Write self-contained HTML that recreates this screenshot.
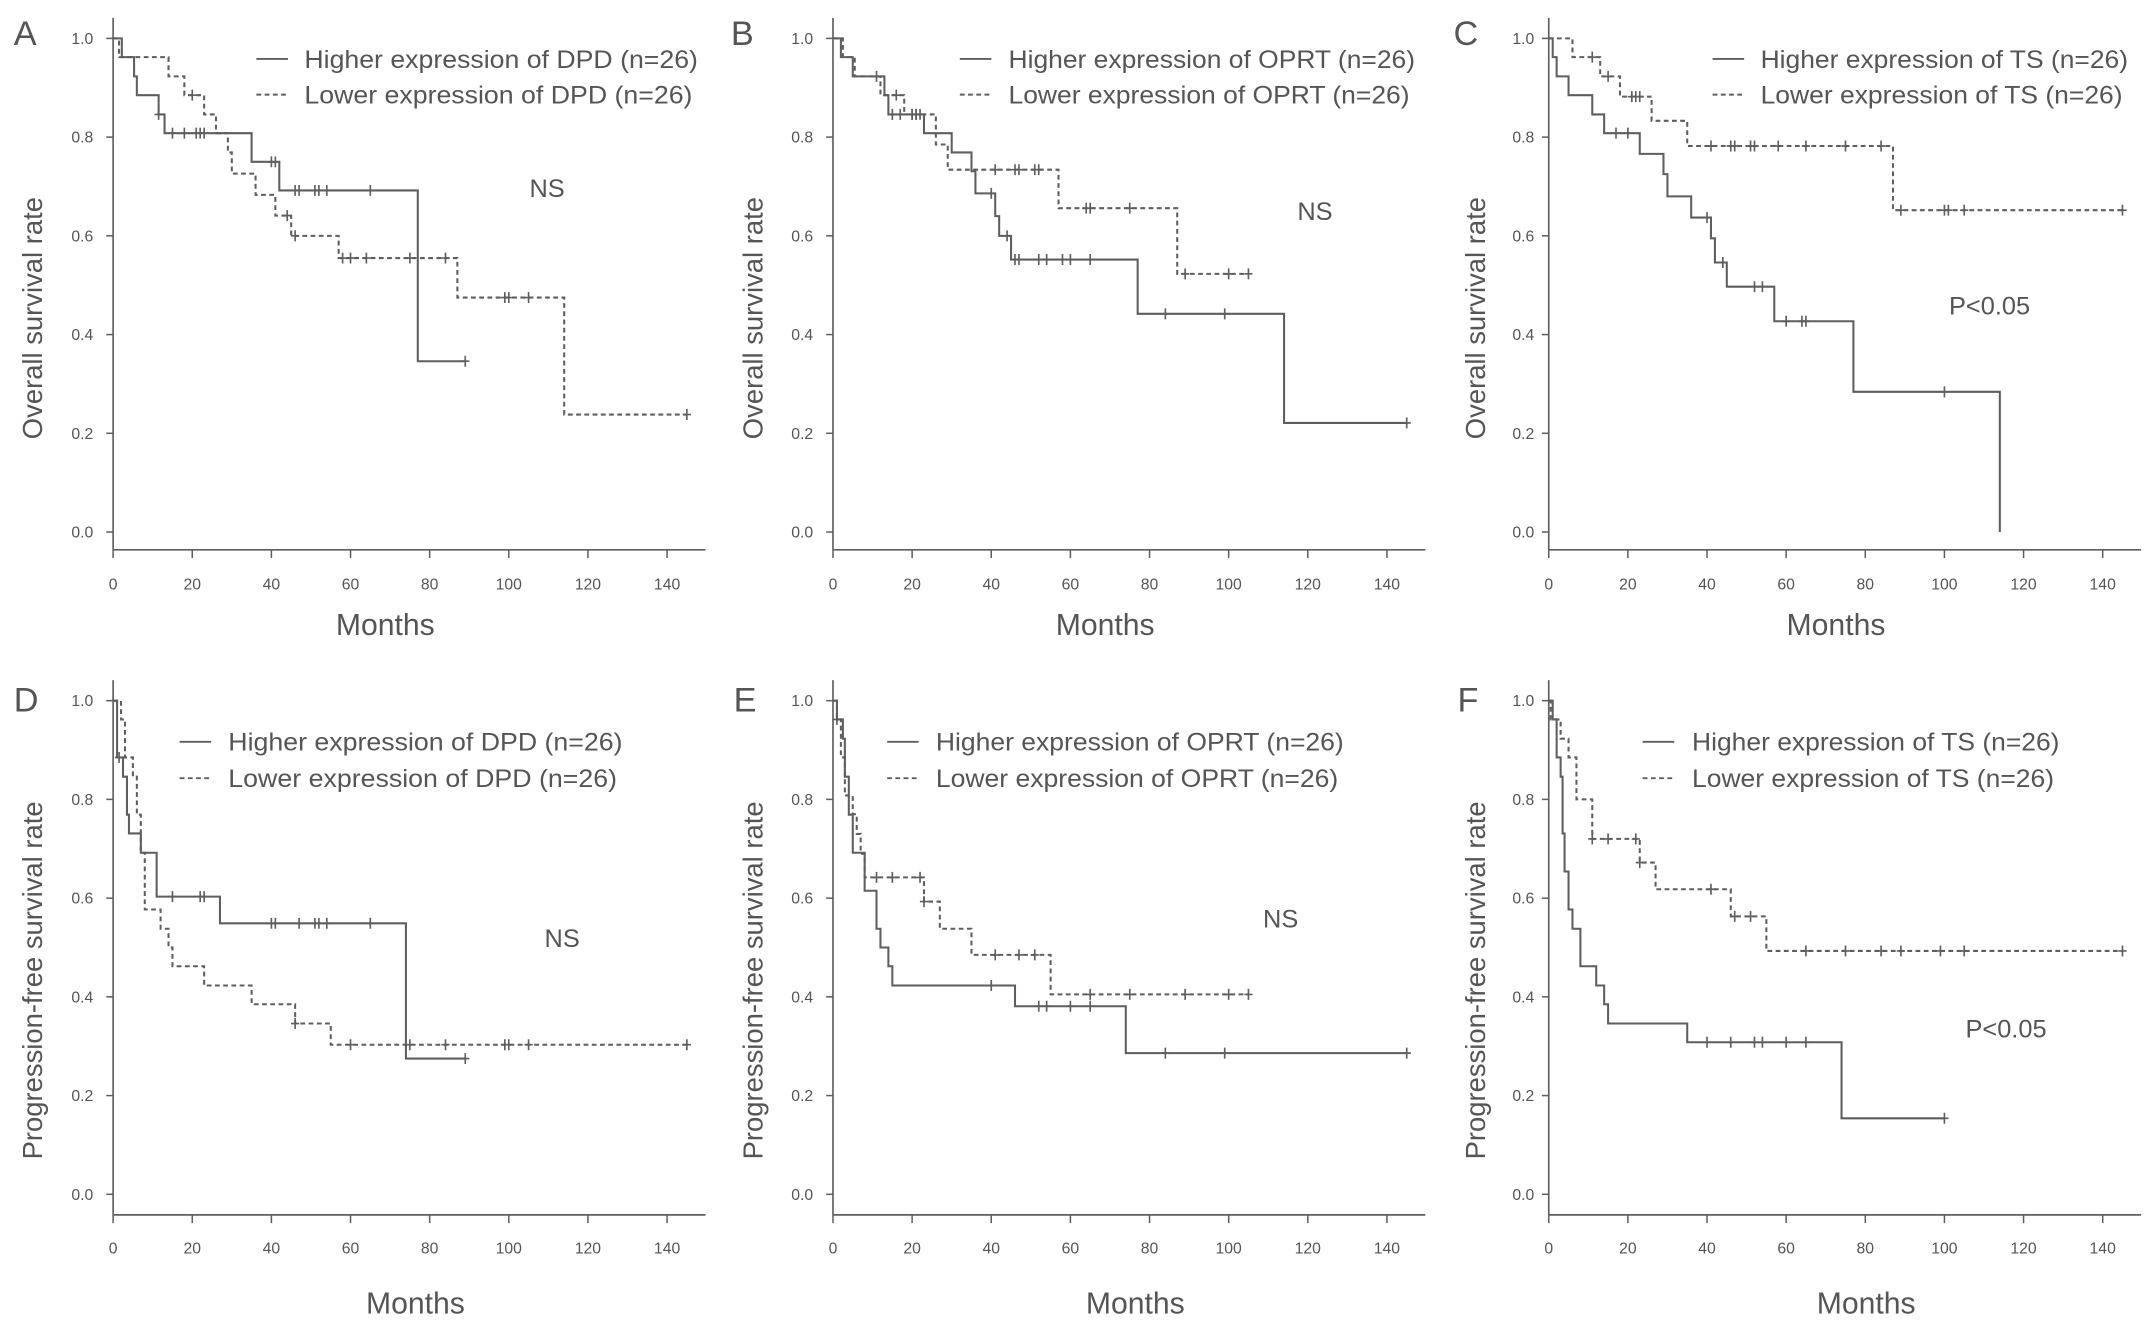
<!DOCTYPE html>
<html><head><meta charset="utf-8"><style>
html,body{margin:0;padding:0;background:#fff;}
svg{display:block;}
text{font-family:"Liberation Sans",Arial,sans-serif;fill:#555;}
</style></head><body>
<svg id="fig" width="2150" height="1328" viewBox="0 0 1568 968.5" preserveAspectRatio="none" xmlns="http://www.w3.org/2000/svg"></svg>
<script>
// ---- data (months, survival after drop, censor months) ----
const xTicks = [0,20,40,60,80,100,120,140];
const yTicks = [0.0,0.2,0.4,0.6,0.8,1.0];
const yTickLabels = ["0.0","0.2","0.4","0.6","0.8","1.0"];

const A_hi_t = [2.2,5.3,6,11.5,13,35,42,77];
const A_hi_s = [0.962,0.923,0.885,0.846,0.808,0.75,0.692,0.346];
const A_hi_c = [11.5,15,18,21,22,23,40,41,46,47,51,52,54,65,89];
const A_lo_t = [1.5,14,18,23,26,29,30,36,41,45,57,87,114];
const A_lo_s = [0.962,0.923,0.885,0.846,0.808,0.769,0.726,0.683,0.641,0.60,0.555,0.475,0.238];
const A_lo_c = [20,44,46,58,60,64,75,84,99,100,105,145];

const B_hi_t = [2,5,13,14,23,30,35,36,41,42,45,77,114];
const B_hi_s = [0.962,0.923,0.885,0.846,0.808,0.769,0.731,0.686,0.64,0.60,0.552,0.442,0.221];
const B_hi_c = [11,15,17,20,21,22,40,44,46,47,52,54,58,60,65,84,99,145];
const B_lo_t = [2.5,5.5,12,18,26,29,57,87];
const B_lo_s = [0.962,0.923,0.885,0.846,0.785,0.734,0.656,0.523];
const B_lo_c = [16,20,21,41,46,47,51,52,64,65,75,89,100,105];

const C_hi_t = [1,2,5,11,14,23,29,30,36,41,42,45,57,77,114];
const C_hi_s = [0.962,0.923,0.885,0.846,0.808,0.766,0.725,0.68,0.637,0.595,0.546,0.497,0.427,0.284,0];
const C_hi_c = [17,20,40,44,52,54,60,64,65,100];
const C_lo_t = [6,13,18,26,35,87];
const C_lo_s = [0.962,0.923,0.882,0.833,0.782,0.652];
const C_lo_c = [11,15,21,22,23,41,46,47,51,52,58,65,75,84,89,100,101,105,145];

const D_hi_t = [1,2.5,3.5,4,7,11,27,74];
const D_hi_s = [0.885,0.846,0.769,0.731,0.692,0.603,0.549,0.275];
const D_hi_c = [1.5,15,22,23,40,41,47,51,52,54,65,89];
const D_lo_t = [2,3,5,6,7,8,12,14,15,23,35,46,55];
const D_lo_s = [0.962,0.885,0.846,0.769,0.692,0.577,0.538,0.50,0.462,0.423,0.385,0.346,0.303];
const D_lo_c = [46,60,75,84,99,100,105,145];

const E_hi_t = [1,2.5,3,4,5,8,11,12,14,15,46,74];
const E_hi_s = [0.962,0.923,0.846,0.769,0.692,0.615,0.538,0.50,0.462,0.423,0.381,0.286];
const E_hi_c = [40,52,54,60,65,84,99,145];
const E_lo_t = [1,2,3,5,6,7,8,23,27,35,55];
const E_lo_s = [0.962,0.885,0.808,0.77,0.73,0.69,0.642,0.593,0.538,0.485,0.405];
const E_lo_c = [1,11,15,22,23,41,47,51,65,75,89,100,105];

const F_hi_t = [1,2,3,3.5,4,5,6,8,12,14,15,35,74];
const F_hi_s = [0.962,0.885,0.846,0.731,0.654,0.577,0.538,0.462,0.423,0.385,0.346,0.308,0.154];
const F_hi_c = [40,46,52,54,60,65,100];
const F_lo_t = [0.5,3,5,7,11,23,27,46,55];
const F_lo_s = [0.962,0.923,0.885,0.80,0.72,0.672,0.618,0.563,0.493];
const F_lo_c = [11,15,22,23,41,47,51,65,75,84,89,99,105,145];

const panels = [
 {id:"a",letter:"A",x0:82.5,lx:10,top:true,gene:"DPD",ylab:"Overall survival rate",ylx:23.5,tlx:68,leg:[187,222,509],note:"NS",nx:399,ny:137,mx:281,hi:[A_hi_t,A_hi_s,A_hi_c],lo:[A_lo_t,A_lo_s,A_lo_c]},
 {id:"b",letter:"B",x0:607.5,lx:533,top:true,gene:"OPRT",ylab:"Overall survival rate",ylx:549,tlx:593,leg:[700,735.5,1032],note:"NS",nx:959,ny:154,mx:806,hi:[B_hi_t,B_hi_s,B_hi_c],lo:[B_lo_t,B_lo_s,B_lo_c]},
 {id:"c",letter:"C",x0:1129.5,lx:1060,top:true,gene:"TS",ylab:"Overall survival rate",ylx:1076,tlx:1119,leg:[1249,1284,1552],note:"P<0.05",nx:1451,ny:223,mx:1339,hi:[C_hi_t,C_hi_s,C_hi_c],lo:[C_lo_t,C_lo_s,C_lo_c]},
 {id:"d",letter:"D",x0:82.5,lx:10,top:false,gene:"DPD",ylab:"Progression-free survival rate",ylx:23.5,tlx:68,leg:[131,166.5,454],note:"NS",nx:410,ny:684,mx:303,hi:[D_hi_t,D_hi_s,D_hi_c],lo:[D_lo_t,D_lo_s,D_lo_c]},
 {id:"e",letter:"E",x0:607.5,lx:535,top:false,gene:"OPRT",ylab:"Progression-free survival rate",ylx:549,tlx:593,leg:[647,682.5,980],note:"NS",nx:934,ny:670,mx:828,hi:[E_hi_t,E_hi_s,E_hi_c],lo:[E_lo_t,E_lo_s,E_lo_c]},
 {id:"f",letter:"F",x0:1129.5,lx:1063,top:false,gene:"TS",ylab:"Progression-free survival rate",ylx:1076,tlx:1119,leg:[1198,1234,1502],note:"P<0.05",nx:1463,ny:750,mx:1361,hi:[F_hi_t,F_hi_s,F_hi_c],lo:[F_lo_t,F_lo_s,F_lo_c]}
];

const NS="http://www.w3.org/2000/svg";
const svg=document.getElementById("fig");
const COL="#5e5e5e";
function mk(tag,attrs,parent){const e=document.createElementNS(NS,tag);for(const k in attrs)e.setAttribute(k,attrs[k]);(parent||svg).appendChild(e);return e;}
function txt(s,attrs,parent){const e=mk("text",attrs,parent);e.textContent=s;return e;}

panels.forEach(p=>{
  const g=mk("g",{});
  
  
  const y1=p.top?28:511, y0=p.top?388:871, axY=p.top?401:886, axTop=p.top?13:496;
  const lblY=p.top?430:914, monY=p.top?463:958, legY1=p.top?43:541, legY2=p.top?69:567.5;
  const xs=(487-83)/140;
  const X=m=>p.x0+m*xs;
  const Y=v=>y0-(y0-y1)*v;
  const ya=mk("line",{x1:p.x0,y1:axTop,x2:p.x0,y2:axY,stroke:COL,"stroke-width":1.2},g);
  
  
  const xa=mk("line",{x1:p.x0,y1:axY,x2:p.x0+432,y2:axY,stroke:COL,"stroke-width":1.2},g);
  
  
  yTicks.forEach((v,i)=>{
    mk("line",{x1:p.x0-5,y1:Y(v),x2:p.x0,y2:Y(v),stroke:COL,"stroke-width":1.1},g);
    const t=txt(yTickLabels[i],{x:p.tlx,y:Y(v)+4,"font-size":11.5,"text-anchor":"end"},g);
    
    
  });
  xTicks.forEach(m=>{
    mk("line",{x1:X(m),y1:axY,x2:X(m),y2:axY+6,stroke:COL,"stroke-width":1.1},g);
    const t=txt(String(m),{x:X(m),y:lblY,"font-size":11.5,"text-anchor":"middle"},g);
    
    
  });
  const yl=txt(p.ylab,{x:0,y:0,"font-size":20,"text-anchor":"middle",transform:`translate(${p.ylx+7},${(y0+y1)/2+24}) rotate(-90)`},g);
  
  
  const mo=txt("Months",{x:p.mx,y:monY,"font-size":22,"text-anchor":"middle"},g);
  
  
  const le=txt(p.letter,{x:p.lx,y:p.top?33:519,"font-size":25},g);
  
  
  const nt=txt(p.note,{x:p.nx,y:p.ny+6.5,"font-size":18.5,"text-anchor":"middle"},g);
  
  
  const l1=mk("line",{x1:p.leg[0],y1:legY1,x2:p.leg[0]+23,y2:legY1,stroke:COL,"stroke-width":1.4},g);
  
  
  const l2=mk("line",{x1:p.leg[0],y1:legY2,x2:p.leg[0]+23,y2:legY2,stroke:COL,"stroke-width":1.4,"stroke-dasharray":"3.5 2.5"},g);
  
  
  const s1="Higher expression of "+p.gene+" (n=26)", s2="Lower expression of "+p.gene+" (n=26)";
  const w1=p.leg[2]-p.leg[1];
  const t1=txt(s1,{x:p.leg[1],y:legY1+6.5,"font-size":18.5,textLength:w1,lengthAdjust:"spacingAndGlyphs"},g);
  
  
  const t2=txt(s2,{x:p.leg[1],y:legY2+6.5,"font-size":18.5,textLength:w1-4,lengthAdjust:"spacingAndGlyphs"},g);
  
  
  [[p.hi,false,"higher"],[p.lo,true,"lower"]].forEach(([ser,dashed,nm])=>{
    const [T,S,C]=ser;
    let d=`M${X(0)},${Y(1)}`, cur=1;
    T.forEach((t,i)=>{d+=` H${X(t)} V${Y(S[i])}`;cur=S[i];});
    const last=Math.max(T[T.length-1],C.length?Math.max(...C):0);
    if(cur>0) d+=` H${X(last)}`;
    const path=mk("path",{d:d,fill:"none",stroke:COL,"stroke-width":1.5,"stroke-dasharray":dashed?"3.5 2.5":"none"},g);
    
    
    const sv=m=>{let v=1;T.forEach((t,i)=>{if(t<=m)v=S[i];});return v;};
    C.forEach(m=>{
      const cx=X(m), cy=Y(sv(m));
      const c=mk("path",{d:`M${cx},${cy-4} V${cy+4} M${cx-3},${cy} H${cx+3}`,stroke:COL,"stroke-width":1.2,fill:"none"},g);
      
      
    });
  });
});
</script>
</body></html>
